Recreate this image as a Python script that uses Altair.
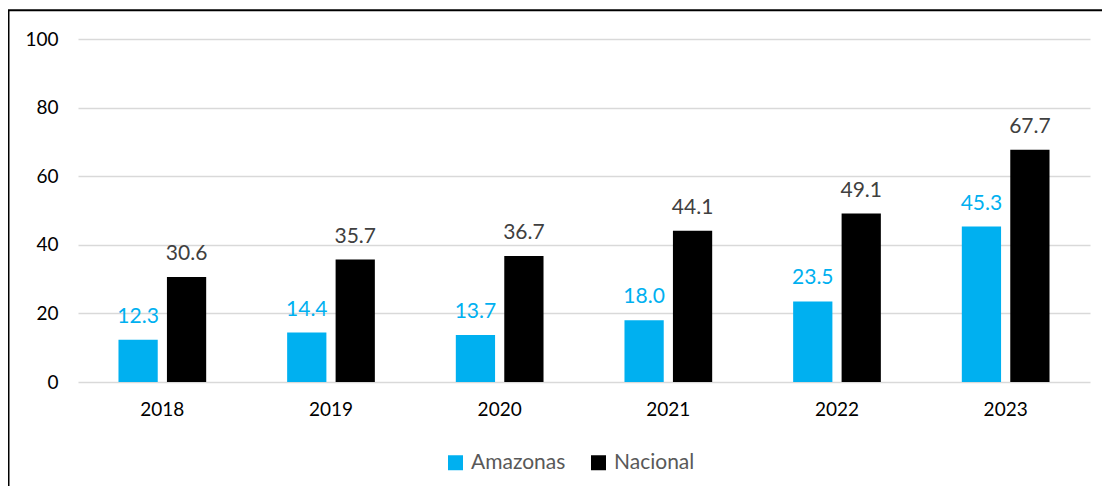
import altair as alt
import pandas as pd

years = ["2018", "2019", "2020", "2021", "2022", "2023"]
amazonas = [12.3, 14.4, 13.7, 18.0, 23.5, 45.3]
nacional = [30.6, 35.7, 36.7, 44.1, 49.1, 67.7]
series = ["Amazonas", "Nacional"]
bar_colors = ["#00B0F0", "#000000"]
label_colors = ["#00B0F0", "#404040"]
y_ticks = [0, 20, 40, 60, 80, 100]

rows = []
for i, yr in enumerate(years):
    rows.append({"year": yr, "serie": "Amazonas", "valor": amazonas[i]})
    rows.append({"year": yr, "serie": "Nacional", "valor": nacional[i]})
df = pd.DataFrame(rows)

W, H = 1012, 343
FONT = "Lato"

x = alt.X("year:N", sort=years, title=None,
          scale=alt.Scale(paddingInner=0.48, paddingOuter=0.24),
          axis=alt.Axis(labelAngle=0, domain=False, ticks=False, tickSize=0,
                        labelPadding=18, labelFontSize=19, labelColor="#000000",
                        labelFont=FONT))
xo = alt.XOffset("serie:N", sort=series,
                 scale=alt.Scale(paddingInner=0.19, paddingOuter=0))
y = alt.Y("valor:Q", title=None,
          scale=alt.Scale(domain=[0, 100], nice=False, zero=True),
          axis=alt.Axis(values=y_ticks, domain=False, ticks=False, tickSize=0,
                        labelPadding=20, labelFontSize=19, labelColor="#000000",
                        labelFont=FONT, grid=True, gridColor="#D9D9D9",
                        gridWidth=1.5))

bars = alt.Chart(df).mark_bar().encode(
    x=x, xOffset=xo, y=y,
    color=alt.Color("serie:N", sort=series,
                    scale=alt.Scale(domain=series, range=bar_colors),
                    legend=alt.Legend(orient="none", legendX=367, legendY=413,
                                      direction="horizontal", title=None,
                                      symbolType="square", symbolSize=225,
                                      symbolStrokeWidth=0, labelFontSize=21,
                                      labelColor="#595959", labelFont=FONT,
                                      columnPadding=22, labelOffset=5)),
)

labels = alt.Chart(df).mark_text(baseline="alphabetic", dy=-17, fontSize=21,
                                 font=FONT).encode(
    x=x, xOffset=xo, y=y,
    text=alt.Text("valor:Q", format=".1f"),
    color=alt.Color("serie:N", sort=series,
                    scale=alt.Scale(domain=series, range=label_colors),
                    legend=None),
)

frame_df = pd.DataFrame({"k": [0]})
left_line = alt.Chart(frame_df).mark_rule(color="black", strokeWidth=2).encode(
    x=alt.value(-69.5), y=alt.value(-29), y2=alt.value(H + 200))
top_line = alt.Chart(frame_df).mark_rule(color="black", strokeWidth=2).encode(
    x=alt.value(-70), x2=alt.value(W + 200), y=alt.value(-28.8))

chart = alt.layer(bars, labels, left_line, top_line).resolve_scale(
    color="independent"
).properties(
    width=W, height=H,
    autosize=alt.AutoSizeParams(type="none"),
    padding={"left": 70, "top": 31, "right": 12, "bottom": 104},
).configure_view(strokeWidth=0)

chart.save("out.html", embed_options={"renderer": "svg", "actions": False})
